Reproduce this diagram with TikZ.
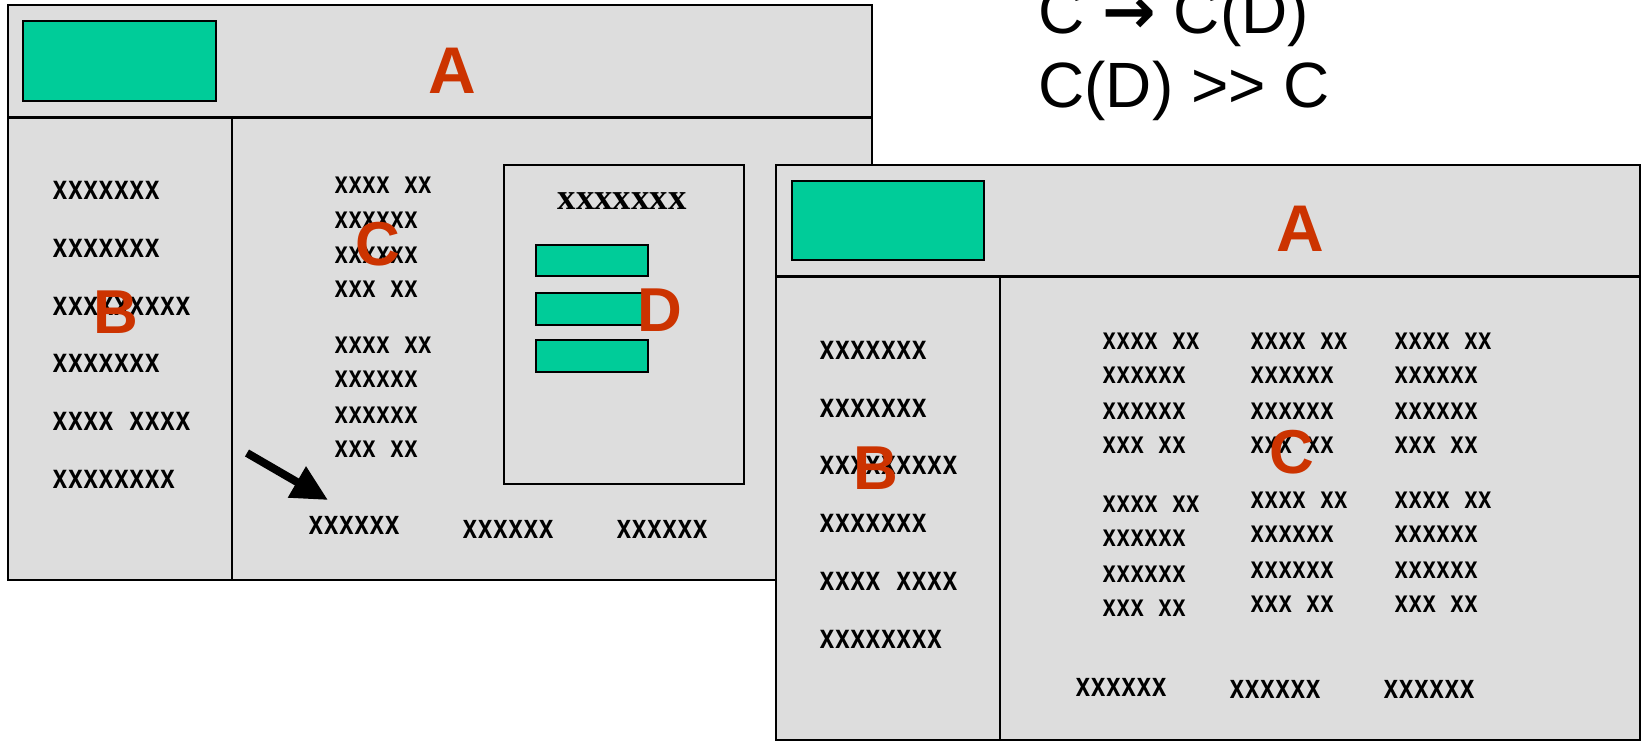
\documentclass[tikz,border=0pt]{standalone}
\usepackage{fontspec}
\setmainfont{Liberation Sans}
\newfontfamily\monox{Liberation Mono}
\newfontfamily\serifx{Liberation Serif}
\newfontfamily\arrowfont{DejaVu Sans}
\usetikzlibrary{arrows.meta}
\definecolor{winGray}{HTML}{DDDDDD}
\definecolor{navGreen}{HTML}{00CC99}
\definecolor{tagRed}{HTML}{CC3300}
\newcommand\tallx[1]{\scalebox{1}[1.35]{#1}}

\begin{document}
\begin{tikzpicture}[
    x=0.5pt, y=-0.5pt,
    win/.style={draw=black, line width=1pt, fill=winGray},
    bar/.style={draw=black, line width=1.2pt, fill=navGreen},
    tag/.style={inner sep=0pt, text=tagRed, font=\fontsize{31}{31}\selectfont\bfseries},
    navtxt/.style={anchor=west, inner sep=0pt, font=\monox\fontsize{12.8}{12.8}\selectfont\bfseries},
    ctxt/.style={navtxt, font=\monox\fontsize{11.6}{11.6}\selectfont\bfseries},
    foottxt/.style={navtxt, font=\monox\fontsize{12.7}{12.7}\selectfont\bfseries},
    bigtxt/.style={anchor=base west, inner sep=0pt, font=\fontsize{32}{32}\selectfont},
  ]
    \useasboundingbox (0,0) rectangle (1647,741);
    \fill[white] (0,0) rectangle (1647,741);

    % first page: C with D
    \draw[win] (8,5) rectangle (872,580);
    \draw[line width=1.5pt] (8,117) -- (872,117);
    \draw[line width=0.8pt] (232,117) -- (232,580);
    \draw[bar] (23,21) rectangle (216,101);
    \node[tag, font=\fontsize{33}{33}\selectfont\bfseries] (A1) at (452,71) {A};

    \node[navtxt] (nav1a) at (52,190) {\tallx{xxxxxxx}};
    \node[navtxt] (nav1b) at (52,248) {\tallx{xxxxxxx}};
    \node[navtxt] (nav1c) at (52,306) {\tallx{xxxxxxxxx}};
    \node[navtxt] (nav1d) at (52,363) {\tallx{xxxxxxx}};
    \node[navtxt] (nav1e) at (52,421) {\tallx{xxxx xxxx}};
    \node[navtxt] (nav1f) at (52,479) {\tallx{xxxxxxxx}};
    \node[tag] (B1) at (116,312) {B};

    \foreach \ty/\txt [count=\ti] in {185/{xxxx xx},220/xxxxxx,255/xxxxxx,289/{xxx xx},
                                      345/{xxxx xx},379/xxxxxx,415/xxxxxx,449/{xxx xx}}
      \node[ctxt] (body1\ti) at (334,\ty) {\tallx{\txt}};
    \node[tag] (C1) at (378,244) {C};

    \draw[line width=1pt] (504,165) rectangle (744,484);
    \node[inner sep=0pt, font=\serifx\fontsize{18.4}{18.4}\selectfont\bfseries] (Dtitle) at (622,201) {xxxxxxx};
    \draw[bar] (536,245) rectangle (648,276);
    \draw[bar] (536,293) rectangle (648,325);
    \draw[bar] (536,340) rectangle (648,372);
    \node[tag] (D1) at (660,310) {D};

    \coordinate (arrS) at (247,453);
    \coordinate (arrE) at (328,500);
    \draw[line width=4pt, -{Triangle[length=18pt, width=17pt]}] (arrS) -- (arrE);

    \node[foottxt] (foot1a) at (308,525) {\tallx{xxxxxx}};
    \node[foottxt] (foot1b) at (462,529) {\tallx{xxxxxx}};
    \node[foottxt] (foot1c) at (616,529) {\tallx{xxxxxx}};

    % second page: C only
    \draw[win] (776,165) rectangle (1640,740);
    \draw[line width=1.5pt] (776,276) -- (1640,276);
    \draw[line width=0.8pt] (1000,276) -- (1000,740);
    \draw[bar] (792,181) rectangle (984,260);
    \node[tag, font=\fontsize{33}{33}\selectfont\bfseries] (A2) at (1300,229) {A};

    \node[navtxt] (nav2a) at (819,350) {\tallx{xxxxxxx}};
    \node[navtxt] (nav2b) at (819,408) {\tallx{xxxxxxx}};
    \node[navtxt] (nav2c) at (819,465) {\tallx{xxxxxxxxx}};
    \node[navtxt] (nav2d) at (819,523) {\tallx{xxxxxxx}};
    \node[navtxt] (nav2e) at (819,581) {\tallx{xxxx xxxx}};
    \node[navtxt] (nav2f) at (819,639) {\tallx{xxxxxxxx}};
    \node[tag] (B2) at (876,468) {B};

    \foreach \cx/\dy [count=\ci] in {1102/4,1250/0,1394/0}
      \foreach \ty/\txt [count=\ti] in {341/{xxxx xx},375/xxxxxx,411/xxxxxx,445/{xxx xx}}{
        \node[ctxt] (grid\ci a\ti) at (\cx,\ty) {\tallx{\txt}};
        \node[ctxt] (grid\ci b\ti) at (\cx,{\ty+159+\dy}) {\tallx{\txt}};
      }
    \node[tag] (C2) at (1292,452) {C};

    \node[foottxt] (foot2a) at (1075,687) {\tallx{xxxxxx}};
    \node[foottxt] (foot2b) at (1229,689) {\tallx{xxxxxx}};
    \node[foottxt] (foot2c) at (1383,689) {\tallx{xxxxxx}};

    % relation
    \node[bigtxt] (rel1) at (1038,33) {C {\arrowfont\bfseries →} C(D)};
    \node[bigtxt] (rel2) at (1038,107) {C(D) >{}> C};
  \end{tikzpicture}
\end{document}
